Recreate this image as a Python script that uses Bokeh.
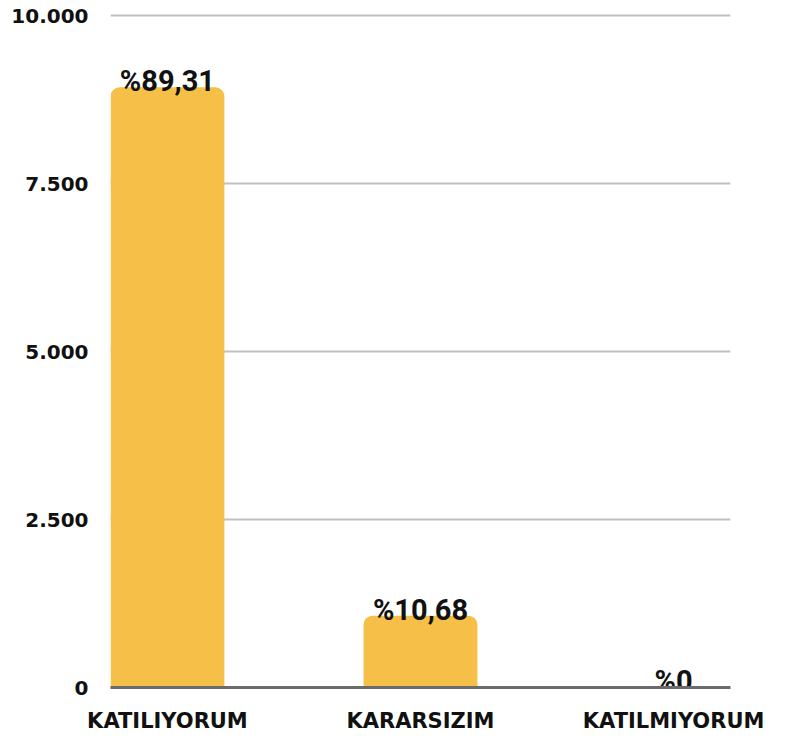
from bokeh.plotting import figure
from bokeh.models import Range1d, FixedTicker, ColumnDataSource
from bokeh.core.properties import value
from bokeh.embed import file_html
from bokeh.resources import INLINE

categories = ["KATILIYORUM", "KARARSIZIM", "KATILMIYORUM"]
counts = [8931, 1068, 1]
bar_labels = ["%89,31", "%10,68", "%0"]
y_ticks = [0, 2500, 5000, 7500, 10000]
y_tick_labels = ["0", "2.500", "5.000", "7.500", "10.000"]

FONT = "DejaVu Sans"
LABEL_FONT = "Roboto"
BAR_W = 0.45

xs = list(range(len(categories)))
src = ColumnDataSource(dict(x=xs, top=counts, label=bar_labels))

p = figure(width=770, height=737, output_backend="svg", toolbar_location=None,
           x_range=Range1d(-BAR_W / 2, len(categories) - 1 + BAR_W / 2),
           y_range=Range1d(0, 10045),
           min_border_left=110, min_border_right=40, min_border_top=12, min_border_bottom=50)
p.outline_line_color = None
p.background_fill_color = "white"
p.border_fill_color = "white"

p.vbar(x="x", top="top", width=BAR_W, source=src, fill_color="#F6BF47", line_color=None,
       border_radius=(9, 9, 0, 0))
p.text(x="x", y="top", text="label", source=src, text_align="center", text_baseline="alphabetic",
       y_offset=-6, text_font=value(LABEL_FONT), text_font_style="bold", text_font_size="29px",
       text_color="#111111")

# y axis
p.yaxis.ticker = FixedTicker(ticks=y_ticks)
p.yaxis.major_label_overrides = {t: l for t, l in zip(y_ticks, y_tick_labels)}
p.yaxis.axis_line_color = None
p.yaxis.major_tick_line_color = None
p.yaxis.minor_tick_line_color = None
p.yaxis.major_tick_out = 0
p.yaxis.major_tick_in = 0
p.yaxis.major_label_standoff = 22
p.yaxis.major_label_text_font = FONT
p.yaxis.major_label_text_font_style = "bold"
p.yaxis.major_label_text_font_size = "20px"
p.yaxis.major_label_text_color = "#111111"

# x axis
p.xaxis.ticker = FixedTicker(ticks=xs)
p.xaxis.major_label_overrides = {i: c for i, c in zip(xs, categories)}
p.xaxis.axis_line_color = "#6b6b6b"
p.xaxis.axis_line_width = 3
p.xaxis.major_tick_line_color = None
p.xaxis.minor_tick_line_color = None
p.xaxis.major_tick_out = 0
p.xaxis.major_tick_in = 0
p.xaxis.major_label_standoff = 21
p.xaxis.major_label_text_font = FONT
p.xaxis.major_label_text_font_style = "bold"
p.xaxis.major_label_text_font_size = "21px"
p.xaxis.major_label_text_color = "#111111"

p.xgrid.grid_line_color = None
p.ygrid.grid_line_color = "#bfbfbf"
p.ygrid.grid_line_width = 2

open("out.html", "w").write(file_html(p, INLINE))
